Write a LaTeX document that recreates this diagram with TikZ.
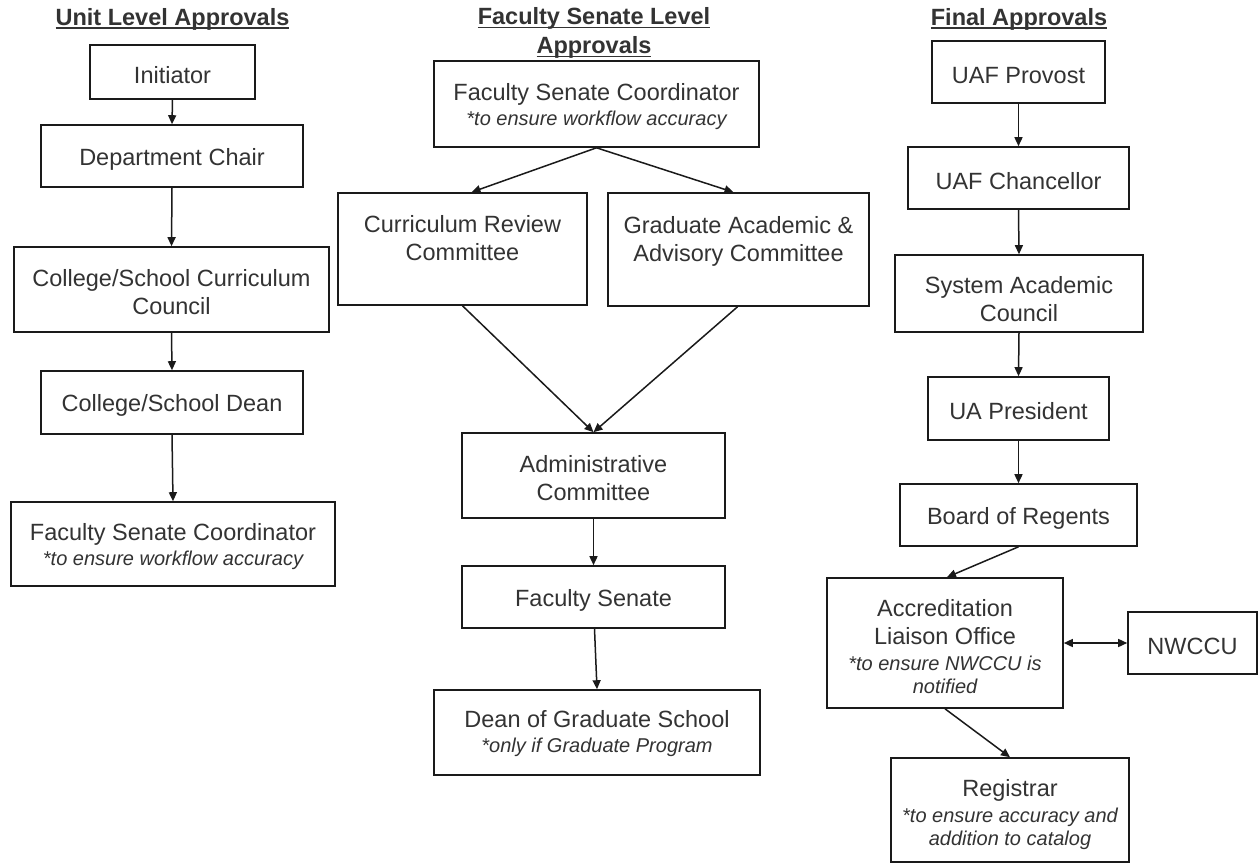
\documentclass[tikz,border=0pt]{standalone}
\usepackage{fontspec}
\setmainfont{Liberation Sans}
\usetikzlibrary{arrows.meta}
\newcommand\mainsz{\fontsize{23.5}{28}\selectfont}
\newcommand\notesz{\fontsize{20}{23}\selectfont\itshape}
\newcommand\ulx[1]{\setbox0\hbox{#1}\rlap{\rule[-3.5pt]{\wd0}{1.5pt}}\box0}
\newcommand\tp{\rule{0pt}{23pt}}
\definecolor{txt}{HTML}{333333}
\definecolor{ln}{HTML}{1A1A1A}
\tikzset{
  box/.style={draw=ln, line width=1.6pt, inner sep=0pt, align=center, text=txt, font=\mainsz},
  sz/.style 2 args={minimum width=#1pt, minimum height=#2pt},
  arr/.style={draw=ln, line width=1.5pt, -{Triangle[length=9pt,width=8pt]}},
  darr/.style={draw=ln, line width=1.5pt, {Triangle[length=9pt,width=8pt]}-{Triangle[length=9pt,width=8pt]}},
  title/.style={align=center, text=txt, font=\mainsz\bfseries, inner sep=0pt}
}
\begin{document}
\begin{tikzpicture}[x=1pt,y=-1pt]
\fill[white] (0,0) rectangle (1259,863);
\useasboundingbox (0,0) rectangle (1259,863);

% titles
\node[title] (t1) at (172.5,19) {\ulx{Unit Level Approvals}};
\node[title] (t2) at (594,33) {\ulx{Faculty Senate Level}\\[1pt]\ulx{Approvals}};
\node[title] (t3) at (1019,19) {\ulx{Final Approvals}};

% left column
\node[box, sz={165}{54}] (init) at (172.5,72) {\tp Initiator};
\node[box, sz={262}{62}] (dept) at (172,156) {\tp Department Chair};
\node[box, sz={315}{85}] (cscc) at (171.5,289.5) {\tp College/School Curriculum\\Council};
\node[box, sz={262}{63}] (csd) at (172,402.5) {\tp College/School Dean};
\node[box, sz={324}{84}] (fscl) at (173,544) {\tp Faculty Senate Coordinator\\[-3pt]{\notesz *to ensure workflow accuracy}};

% middle column
\node[box, sz={325}{86}] (fscm) at (596.5,104) {\tp Faculty Senate Coordinator\\[-3pt]{\notesz *to ensure workflow accuracy}};
\node[box, sz={249}{112}] (crc) at (462.5,249) {\tp Curriculum Review\\Committee\\\mbox{}};
\node[box, sz={261}{113}] (gaac) at (738.5,249.5) {\tp Graduate Academic \&\\Advisory Committee\\\mbox{}};
\node[box, sz={263}{85}] (admin) at (593.5,475.5) {\tp Administrative\\Committee};
\node[box, sz={263}{62}] (fs) at (593.5,597) {\tp Faculty Senate};
\node[box, sz={326}{85}] (dgs) at (597,732.5) {\rule{0pt}{20pt}Dean of Graduate School\\[-3pt]{\notesz *only if Graduate Program}};

% right column
\node[box, sz={173}{62}] (prov) at (1018.5,72) {\tp UAF Provost};
\node[box, sz={221}{62}] (chan) at (1018.5,178) {\tp UAF Chancellor};
\node[box, sz={248}{77}] (sac) at (1019,293.5) {\rule{0pt}{28pt}System Academic\\Council};
\node[box, sz={181}{63}] (uap) at (1018.5,408.5) {\tp UA President};
\node[box, sz={237}{62}] (bor) at (1018.5,515) {\tp Board of Regents};
\node[box, sz={236}{130}] (alo) at (945,643) {\rule{0pt}{25pt}Accreditation\\Liaison Office\\[-2pt]{\notesz *to ensure NWCCU is}\\[-5pt]{\notesz notified}};
\node[box, sz={129}{62}] (nw) at (1192.5,643) {\tp NWCCU};
\node[box, sz={238}{104}] (reg) at (1010,810) {\rule{0pt}{27pt}Registrar\\[-2pt]{\notesz *to ensure accuracy and}\\[-5pt]{\notesz addition to catalog}};

% connectors left
\draw[arr] (init.south) -- (dept.north);
\draw[arr] (dept.south) -- (cscc.north);
\draw[arr] (cscc.south) -- (csd.north);
\draw[arr] (csd.south) -- (fscl.north);

% connectors middle
\draw[arr] (fscm.south) -- ([xshift=9pt]crc.north);
\draw[arr] (fscm.south) -- ([xshift=-5pt]gaac.north);
\draw[arr] (crc.south) -- (admin.north);
\draw[arr] ([xshift=-1pt]gaac.south) -- (admin.north);
\draw[arr] (admin.south) -- (fs.north);
\draw[arr] ([xshift=1pt]fs.south) -- (dgs.north);

% connectors right
\draw[arr] (prov.south) -- (chan.north);
\draw[arr] (chan.south) -- (sac.north);
\draw[arr] (sac.south) -- (uap.north);
\draw[arr] (uap.south) -- (bor.north);
\draw[arr] (bor.south) -- ([xshift=2pt]alo.north);
\draw[arr] (alo.south) -- (reg.north);
\draw[darr] (alo.east) -- (nw.west);
\end{tikzpicture}
\end{document}
